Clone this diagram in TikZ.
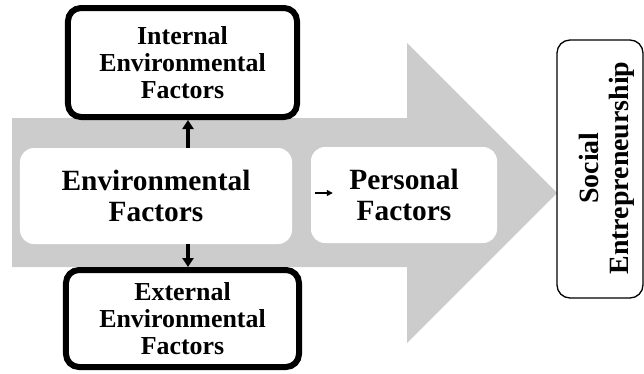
\documentclass[tikz,border=0pt]{standalone}
\usepackage{fontspec}
\setmainfont{Liberation Serif}
\usetikzlibrary{arrows.meta}
\tikzset{
  thickbox/.style={draw=black, line width=6bp, rounded corners=13bp, fill=white, align=center, font=\fontsize{26}{27}\selectfont\bfseries, inner sep=0pt},
  whitebox/.style={fill=white, rounded corners=14bp, align=center, font=\fontsize{29.5}{31}\selectfont\bfseries, inner sep=0pt},
  thinbox/.style={draw=black, line width=1.3bp, rounded corners=13bp, fill=white, inner sep=0pt},
  bigarrow/.style={-{Triangle[width=11bp,length=9bp]}, line width=3.5bp},
  smallarrow/.style={-{Triangle[width=6bp,length=6bp]}, line width=1.3bp},
}
\begin{document}
\begin{tikzpicture}[x=1bp,y=-1bp]
\useasboundingbox (0,0) rectangle (644,373);
\fill[gray!40] (12,118) -- (407,118) -- (407,43) -- (557,193) -- (407,343) -- (407,267) -- (12,267) -- cycle;
\node[thickbox, minimum width=229bp, minimum height=109bp] (int) at (182.5,62.5) {Internal\\Environmental\\Factors};
\node[thickbox, minimum width=233bp, minimum height=97bp] (ext) at (182.5,318.5) {External\\Environmental\\Factors};
\node[whitebox, minimum width=272bp, minimum height=96bp] (env) at (156,196) {Environmental\\Factors};
\node[whitebox, minimum width=186bp, minimum height=96bp] (pers) at (404,195) {Personal\\Factors};
\node[thinbox, minimum width=86bp, minimum height=258bp] (soc) at (600,169) {};
\node[rotate=90, align=center, font=\fontsize{28}{30}\selectfont\bfseries, inner sep=0pt] (soctext) at (607,168) {Social\\Entrepreneurship};
\draw[bigarrow] ([xshift=5.5bp]int.south |- env.north) -- ([xshift=5.5bp]int.south);
\draw[bigarrow] ([xshift=5.5bp]ext.north |- env.south) -- ([xshift=5.5bp]ext.north);
\draw[smallarrow] ([xshift=4bp,yshift=2bp]pers.west) -- ([xshift=22bp,yshift=2bp]pers.west);
\end{tikzpicture}
\end{document}
